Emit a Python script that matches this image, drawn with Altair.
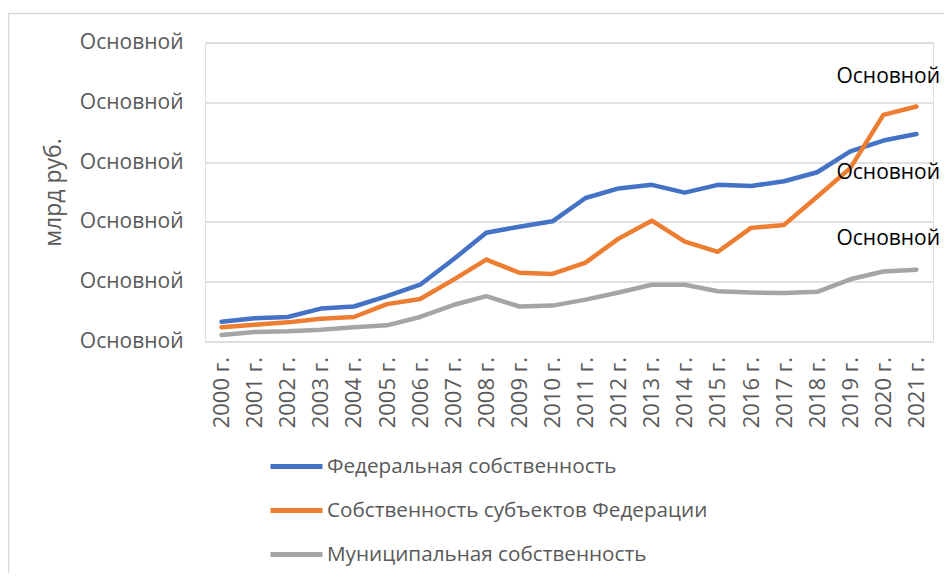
import altair as alt
import pandas as pd

years = ["2000 г.", "2001 г.", "2002 г.", "2003 г.", "2004 г.", "2005 г.", "2006 г.",
         "2007 г.", "2008 г.", "2009 г.", "2010 г.", "2011 г.", "2012 г.", "2013 г.",
         "2014 г.", "2015 г.", "2016 г.", "2017 г.", "2018 г.", "2019 г.", "2020 г.", "2021 г."]

series_names = ["Федеральная собственность", "Собственность субъектов Федерации",
                "Муниципальная собственность"]
series_colors = ["#4472C4", "#ED7D31", "#A5A5A5"]

federal = [0.33, 0.39, 0.41, 0.55, 0.585, 0.76, 0.95, 1.37, 1.82, 1.92, 2.01, 2.40,
           2.56, 2.62, 2.49, 2.62, 2.60, 2.68, 2.83, 3.18, 3.36, 3.47]
regional = [0.24, 0.28, 0.32, 0.38, 0.41, 0.625, 0.71, 1.03, 1.37, 1.15, 1.13, 1.32,
            1.72, 2.02, 1.67, 1.50, 1.90, 1.95, 2.42, 2.90, 3.79, 3.93]
municipal = [0.11, 0.16, 0.17, 0.195, 0.24, 0.27, 0.41, 0.61, 0.76, 0.585, 0.60, 0.70,
             0.82, 0.95, 0.95, 0.84, 0.82, 0.81, 0.83, 1.04, 1.17, 1.20]

y_ticks = [0, 1, 2, 3, 4, 5]
tick_label = "Основной"
y_title = "млрд руб."

rows = []
for name, vals in zip(series_names, [federal, regional, municipal]):
    for yr, v in zip(years, vals):
        rows.append({"year": yr, "series": name, "value": v})
df = pd.DataFrame(rows)

FONT = "Open Sans"
GREY_TXT = "#595959"
FS = 21

x_enc = alt.X("year:O", sort=years, scale=alt.Scale(paddingOuter=0.5, paddingInner=0),
              axis=alt.Axis(title=None, labelAngle=270, labelAlign="right", labelBaseline="middle",
                            labelPadding=15, ticks=False, tickSize=0, domain=False, grid=False,
                            labelFont=FONT, labelFontSize=22, labelColor=GREY_TXT))
y_enc = alt.Y("value:Q", scale=alt.Scale(domain=[0, 5], nice=False),
              axis=alt.Axis(values=y_ticks, labelExpr=f"'{tick_label}'", title=y_title,
                            titleFont=FONT, titleFontSize=23, titleFontWeight="normal",
                            titleColor=GREY_TXT, titlePadding=14,
                            labelFont=FONT, labelFontSize=FS, labelColor=GREY_TXT,
                            labelPadding=22, ticks=False, tickSize=0, domain=False,
                            grid=True, gridColor="#D9D9D9", gridWidth=1.3))

color_enc = alt.Color("series:N", sort=series_names,
                      scale=alt.Scale(domain=series_names, range=series_colors),
                      legend=alt.Legend(title=None, orient="none", legendX=63, legendY=412,
                                        direction="vertical", symbolType="stroke",
                                        symbolSize=2704, symbolStrokeWidth=5,
                                        clipHeight=24, rowPadding=20, labelOffset=2,
                                        labelLimit=0,
                                        labelFont=FONT, labelFontSize=20.7, labelColor=GREY_TXT,
                                        padding=0))

lines = alt.Chart(df).mark_line(strokeWidth=4.5, strokeCap="round", strokeJoin="round").encode(
    x=x_enc, y=y_enc, color=color_enc)

last = years[-1]
label_offsets = [39, -29, -31]
label_layers = []
for name, dy in zip(series_names, label_offsets):
    label_layers.append(
        alt.Chart(df).transform_filter(
            (alt.datum.year == last) & (alt.datum.series == name)
        ).mark_text(align="left", baseline="middle", dx=-80, dy=dy, font=FONT,
                    fontSize=FS, color="#000000").encode(
            x=alt.X("year:O", sort=years), y="value:Q", text=alt.value(tick_label))
    )

border = alt.Chart(pd.DataFrame({"a": [0]})).mark_rect(
    fill="transparent", stroke="#D9D9D9", strokeWidth=1.5).encode(
    x=alt.value(-196.5), x2=alt.value(900), y=alt.value(-29), y2=alt.value(700))

chart = alt.layer(border, lines, *label_layers).properties(
    width=728, height=299,
    autosize=alt.AutoSizeParams(type="none"),
    padding={"left": 197, "top": 34.5, "right": 11, "bottom": 231},
).configure_view(stroke=None).configure(background="white")

chart.save("out.html", embed_options={"renderer": "svg", "actions": False})
